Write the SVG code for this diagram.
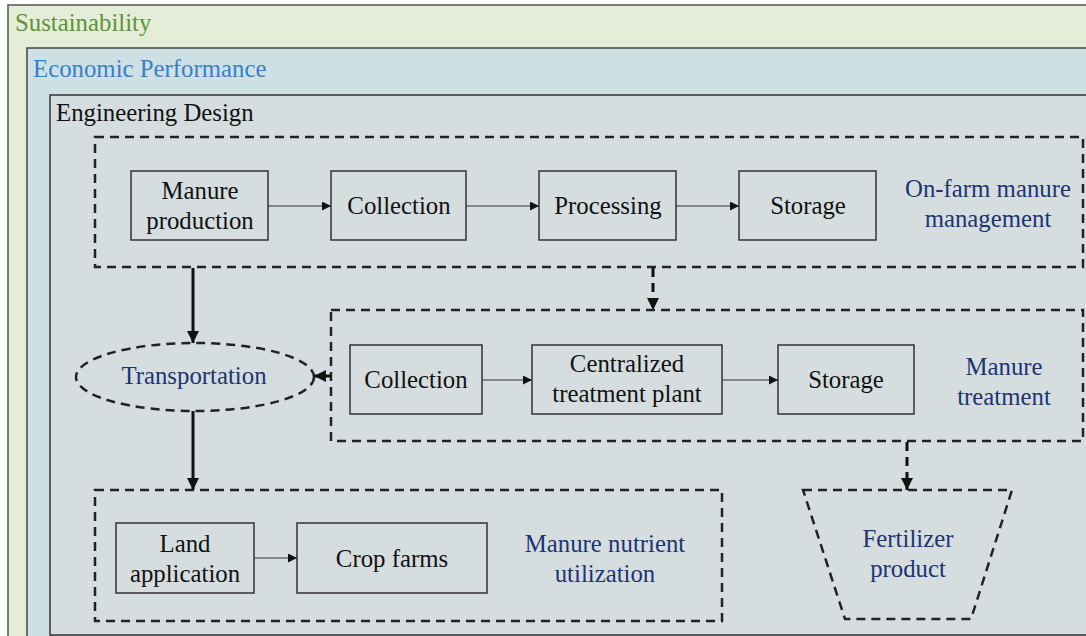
<svg xmlns="http://www.w3.org/2000/svg" width="1086" height="636" viewBox="0 0 1086 636">
  <defs>
    <marker id="ah" viewBox="0 0 10 10" refX="10" refY="5" markerWidth="9" markerHeight="9" markerUnits="userSpaceOnUse" orient="auto">
      <path d="M0,0 L10,5 L0,10 z" fill="#111"/>
    </marker>
    <marker id="ahBig" viewBox="0 0 10 10" refX="10" refY="5" markerWidth="12" markerHeight="12" markerUnits="userSpaceOnUse" orient="auto">
      <path d="M0,0 L10,5 L0,10 z" fill="#111"/>
    </marker>
    <style>
      text { font-family: "Liberation Serif", "Times New Roman", serif; font-size: 24.8px; }
      .box { fill: none; stroke: #333; stroke-width: 1.5; }
      .dash { fill: none; stroke: #222; stroke-width: 2.5; stroke-dasharray: 9 6; }
      .lbl { fill: #111; text-anchor: middle; }
      .grp { fill: #1c3473; text-anchor: middle; }
      .thin { stroke: #333; stroke-width: 1.2; fill: none; marker-end: url(#ah); }
      .thick { stroke: #111; stroke-width: 3; fill: none; marker-end: url(#ahBig); }
      .thickdash { stroke: #111; stroke-width: 3; fill: none; stroke-dasharray: 9 6; marker-end: url(#ahBig); }
    </style>
  </defs>

  <rect width="1086" height="636" fill="#ffffff"/>

  <!-- Nested frames -->
  <g id="sustainability">
    <rect x="8" y="5" width="1090" height="640" fill="#e3edd8" stroke="#555" stroke-width="1.5"/>
    <text x="15" y="31" fill="#5e9338">Sustainability</text>
  </g>
  <g id="economic">
    <rect x="27" y="48" width="1070" height="600" fill="#cde0e4" stroke="#444" stroke-width="1.5"/>
    <text x="33" y="77" fill="#3a7fc6">Economic Performance</text>
  </g>
  <g id="engineering">
    <rect x="50" y="95" width="1050" height="540" fill="#d6dddf" stroke="#333" stroke-width="1.5"/>
    <text x="56" y="121" fill="#111">Engineering Design</text>
  </g>

  <!-- On-farm manure management -->
  <g id="onfarm">
    <rect class="dash" x="95" y="137" width="988" height="130"/>
    <text class="grp" x="988" y="197">On-farm manure</text>
    <text class="grp" x="988" y="227">management</text>
  </g>
  <g id="manure-production">
    <rect class="box" x="131" y="171" width="137" height="69"/>
    <text class="lbl" x="200" y="199">Manure</text>
    <text class="lbl" x="200" y="229">production</text>
  </g>
  <g id="collection-1">
    <rect class="box" x="331" y="171" width="135" height="69"/>
    <text class="lbl" x="399" y="214">Collection</text>
  </g>
  <g id="processing">
    <rect class="box" x="539" y="171" width="137" height="69"/>
    <text class="lbl" x="608" y="214">Processing</text>
  </g>
  <g id="storage-1">
    <rect class="box" x="739" y="171" width="137" height="69"/>
    <text class="lbl" x="808" y="214">Storage</text>
  </g>

  <!-- Manure treatment -->
  <g id="treatment">
    <rect class="dash" x="331" y="310" width="752" height="131"/>
    <text class="grp" x="1004" y="375">Manure</text>
    <text class="grp" x="1004" y="405">treatment</text>
  </g>
  <g id="collection-2">
    <rect class="box" x="350" y="345" width="132" height="69"/>
    <text class="lbl" x="416" y="388">Collection</text>
  </g>
  <g id="central-plant">
    <rect class="box" x="532" y="345" width="190" height="69"/>
    <text class="lbl" x="627" y="372">Centralized</text>
    <text class="lbl" x="627" y="402">treatment  plant</text>
  </g>
  <g id="storage-2">
    <rect class="box" x="778" y="345" width="136" height="69"/>
    <text class="lbl" x="846" y="388">Storage</text>
  </g>

  <!-- Transportation -->
  <g id="transportation">
    <ellipse cx="195" cy="377" rx="119" ry="34" fill="none" stroke="#222" stroke-width="2.5" stroke-dasharray="9 6"/>
    <text class="grp" x="194" y="384">Transportation</text>
  </g>

  <!-- Manure nutrient utilization -->
  <g id="utilization">
    <rect class="dash" x="95" y="490" width="627" height="131"/>
    <text class="grp" x="605" y="552">Manure nutrient</text>
    <text class="grp" x="605" y="582">utilization</text>
  </g>
  <g id="land-application">
    <rect class="box" x="116" y="523" width="138" height="70"/>
    <text class="lbl" x="185" y="552">Land</text>
    <text class="lbl" x="185" y="582">application</text>
  </g>
  <g id="crop-farms">
    <rect class="box" x="297" y="523" width="190" height="70"/>
    <text class="lbl" x="392" y="567">Crop farms</text>
  </g>

  <!-- Fertilizer product -->
  <g id="fertilizer">
    <path d="M803,490 L1012,490 L971,619 L845,619 Z" fill="none" stroke="#222" stroke-width="2.5" stroke-dasharray="9 6"/>
    <text class="grp" x="908" y="547">Fertilizer</text>
    <text class="grp" x="908" y="577">product</text>
  </g>

  <!-- Connectors -->
  <g id="connectors">
    <path class="thin" d="M268,206 L331,206"/>
    <path class="thin" d="M466,206 L539,206"/>
    <path class="thin" d="M676,206 L739,206"/>
    <path class="thin" d="M482,380 L532,380"/>
    <path class="thin" d="M722,380 L778,380"/>
    <path class="thin" d="M254,558 L297,558"/>
    <path class="thickdash" d="M653,268 L653,310"/>
    <path class="thickdash" d="M907,442 L907,490"/>
    <path class="thick" d="M193,268 L193,343"/>
    <path class="thick" d="M331,376 L314,376"/>
    <path class="thick" d="M193,411 L193,490"/>
  </g>
</svg>
